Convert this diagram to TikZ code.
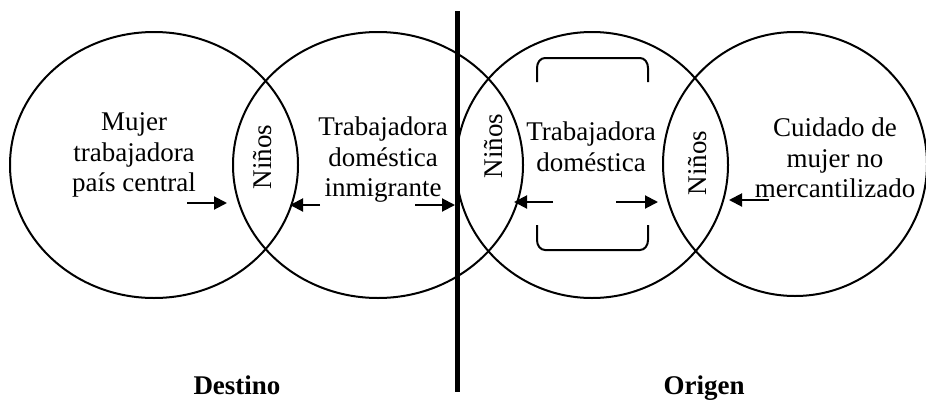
\documentclass[tikz,border=0pt]{standalone}
\usepackage{fontspec}
\setmainfont{Liberation Serif}
\usetikzlibrary{arrows.meta}
\tikzset{
  txt/.style={font=\fontsize{27}{30.5}\selectfont, align=center, inner sep=0pt},
  ninos/.style={txt, rotate=90},
  flecha/.style={-{Triangle[length=13pt,width=13pt]}, line width=2pt}
}
\begin{document}
\begin{tikzpicture}[x=1pt,y=-1pt, line width=2pt]
  \useasboundingbox (0,0) rectangle (926,399);

  \coordinate (C1) at (154,165);
  \coordinate (C2) at (378,165);
  \coordinate (C3) at (592,165);
  \coordinate (C4) at (795,164);

  % Circles
  \draw (C1) ellipse [x radius=144pt, y radius=133pt];
  \draw (C2) ellipse [x radius=145pt, y radius=133pt];
  \draw (C3) ellipse [x radius=136pt, y radius=133pt];
  \draw (C4) ellipse [x radius=132pt, y radius=132pt];

  % Border
  \coordinate (top) at (457,11);
  \coordinate (bot) at (457,392);
  \draw[line width=5pt] (top) -- (bot);

  % Texts
  \node[txt] (mujer) at (134,155) {Mujer\\trabajadora\\país central};
  \node[txt] (inmig) at (383,160) {Trabajadora\\doméstica\\inmigrante};
  \node[txt] (domes) at (591,147) {Trabajadora\\doméstica};
  \node[txt] (cuida) at (835,158) {Cuidado de\\mujer no\\mercantilizado};

  \node[ninos] (n1) at (263,157) {Niños};
  \node[ninos] (n2) at (494,146) {Niños};
  \node[ninos] (n3) at (698,163) {Niños};

  \node[txt, font=\fontsize{27}{30}\selectfont\bfseries, anchor=base] (dest) at (237,394) {Destino};
  \node[txt, font=\fontsize{27}{30}\selectfont\bfseries, anchor=base] (orig) at (704,394) {Origen};

  % Arrows
  \coordinate (a1) at (187,203); \coordinate (b1) at (227,203);
  \coordinate (a2) at (320,205); \coordinate (b2) at (290,205);
  \coordinate (a3) at (415,205); \coordinate (b3) at (455,205);
  \coordinate (a4) at (553,202); \coordinate (b4) at (514,202);
  \coordinate (a5) at (616,202); \coordinate (b5) at (658,202);
  \coordinate (a6) at (769,200); \coordinate (b6) at (729,200);
  \foreach \i in {1,...,6}
    \draw[flecha] (a\i) -- (b\i);

  % Brackets
  \draw (537,82) -- (537,68) to[out=90,in=180] (545,58) -- (640,58)
        to[out=0,in=90] (648,68) -- (648,82);
  \draw (537,225) -- (537,240) to[out=-90,in=180] (545,250) -- (640,250)
        to[out=0,in=-90] (648,240) -- (648,225);
\end{tikzpicture}
\end{document}
